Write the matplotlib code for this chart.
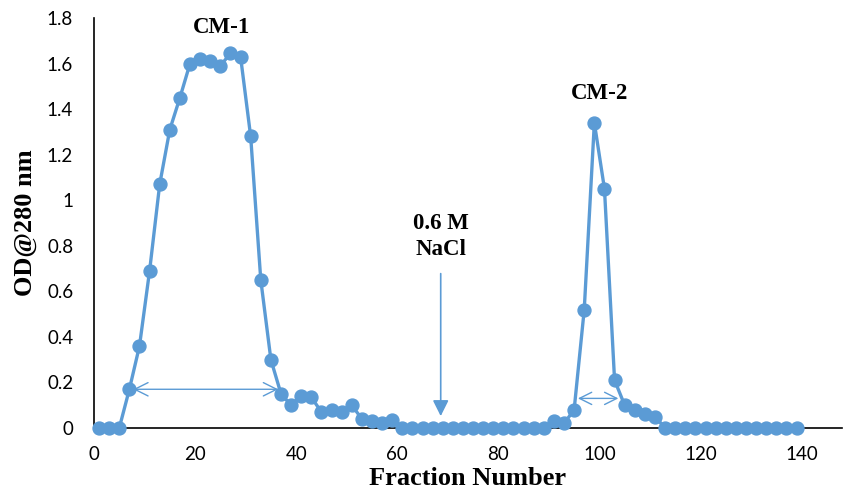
import matplotlib
matplotlib.use("Agg")
import matplotlib.pyplot as plt

fractions = list(range(1, 140, 2))
od280 = [0, 0, 0, 0.17, 0.36, 0.69, 1.07, 1.31, 1.45, 1.60,
         1.62, 1.61, 1.59, 1.645, 1.63, 1.28, 0.65, 0.30, 0.15, 0.10,
         0.14, 0.135, 0.07, 0.08, 0.07, 0.10, 0.04, 0.03, 0.02, 0.035,
         0, 0, 0, 0, 0, 0, 0, 0, 0, 0,
         0, 0, 0, 0, 0, 0.03, 0.02, 0.08, 0.52, 1.34,
         1.05, 0.21, 0.10, 0.08, 0.06, 0.05, 0, 0, 0, 0,
         0, 0, 0, 0, 0, 0, 0, 0, 0, 0]

xticks = [0, 20, 40, 60, 80, 100, 120, 140]
yticks = [0, 0.2, 0.4, 0.6, 0.8, 1.0, 1.2, 1.4, 1.6, 1.8]
ytick_labels = ["0", "0.2", "0.4", "0.6", "0.8", "1", "1.2", "1.4", "1.6", "1.8"]

color = "#5B9BD5"
serif = "Liberation Serif"
tickfont = "Lato"

fig = plt.figure(figsize=(8.44, 4.92), dpi=100)
ax = fig.add_axes([94/844, 1-428/492, (842-94)/844, (428-18)/492])

ax.plot(fractions, od280, color=color, lw=2.4, marker="o", ms=9.3, clip_on=False, zorder=3)

ax.set_xlim(0, 148)
ax.set_ylim(0, 1.8)
ax.set_xticks(xticks)
ax.set_yticks(yticks)
ax.set_yticklabels(ytick_labels)
ax.tick_params(length=0, labelsize=13.5)
ax.tick_params(axis="y", pad=15)
ax.tick_params(axis="x", pad=13)
for lab in ax.get_xticklabels() + ax.get_yticklabels():
    lab.set_fontfamily(tickfont)
ax.spines["top"].set_visible(False)
ax.spines["right"].set_visible(False)
ax.spines["left"].set_linewidth(1.2)
ax.spines["bottom"].set_linewidth(1.2)

ax.set_xlabel("Fraction Number", fontfamily=serif, fontweight="bold", fontsize=19, labelpad=3)
ax.set_ylabel("OD@280 nm", fontfamily=serif, fontweight="bold", fontsize=19, labelpad=7)

ax.text(25.2, 1.76, "CM-1", fontfamily=serif, fontweight="bold", fontsize=16.5, ha="center", va="center")
ax.text(100, 1.47, "CM-2", fontfamily=serif, fontweight="bold", fontsize=16.5, ha="center", va="center")
ax.text(68.6, 0.84, "0.6 M\nNaCl", fontfamily=serif, fontweight="bold", fontsize=16.5,
        ha="center", va="center", linespacing=1.35)

ax.annotate("", xy=(68.6, 0.04), xytext=(68.6, 0.69),
            arrowprops=dict(arrowstyle="-|>", color=color, lw=1.2, mutation_scale=24))
ax.annotate("", xy=(7.2, 0.17), xytext=(37, 0.17),
            arrowprops=dict(arrowstyle="<->", color=color, lw=1.0, mutation_scale=24))
ax.annotate("", xy=(95.2, 0.13), xytext=(104.3, 0.13),
            arrowprops=dict(arrowstyle="<->", color=color, lw=1.0, mutation_scale=22))

fig.savefig("out.png", dpi=100)
